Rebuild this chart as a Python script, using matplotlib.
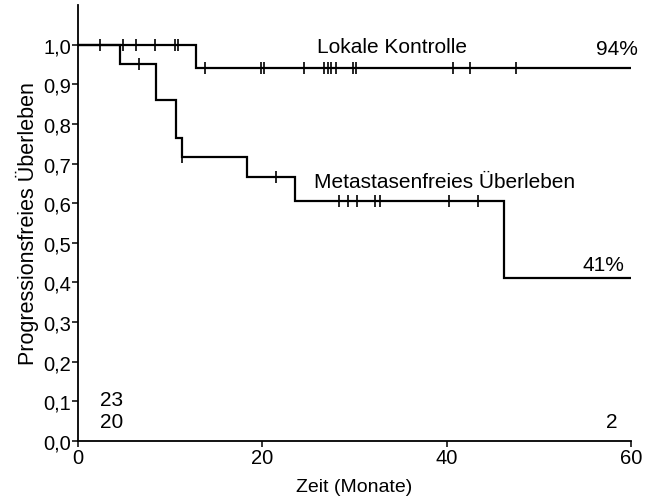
import matplotlib
matplotlib.use("Agg")
import matplotlib.pyplot as plt

# Lokale Kontrolle (step times in months, survival after each step)
lk_times = [0, 12.8, 60]
lk_surv = [1.0, 0.94, 0.94]
lk_censor = [2.4, 4.9, 6.3, 8.4, 10.5, 10.9, 13.8, 19.9, 20.2, 24.5,
             26.7, 27.1, 27.5, 28.0, 29.8, 30.2, 40.7, 42.5, 47.5]

# Metastasenfreies Überleben
mf_times = [0, 4.6, 8.5, 10.6, 11.3, 18.3, 23.5, 46.2, 60]
mf_surv = [1.0, 0.95, 0.86, 0.765, 0.716, 0.665, 0.606, 0.41, 0.41]
mf_censor = [6.6, 11.3, 21.5, 28.3, 29.3, 30.3, 32.2, 32.8, 40.3, 43.4]

x_ticks = [0, 20, 40, 60]
y_ticks = [0.0, 0.1, 0.2, 0.3, 0.4, 0.5, 0.6, 0.7, 0.8, 0.9, 1.0]

plt.rcParams['font.family'] = ['Liberation Sans', 'DejaVu Sans']

fig = plt.figure(figsize=(6.55, 5.02), dpi=100)
ax = fig.add_axes([78/655, 1-442/502, (631-78)/655, (442-6)/502])


def surv_at(times, surv, t):
    val = surv[0]
    for ti, si in zip(times, surv):
        if ti <= t:
            val = si
    return val


for times, surv, cens in [(lk_times, lk_surv, lk_censor), (mf_times, mf_surv, mf_censor)]:
    ax.step(times, surv, where='post', color='black', lw=1.6, solid_joinstyle='miter')
    ax.plot(cens, [surv_at(times, surv, c) for c in cens], linestyle='none',
            marker='|', markersize=8, markeredgewidth=1.2, color='black')

ax.set_xlim(0, 60)
ax.set_ylim(0, 1.1)
ax.set_xticks(x_ticks)
ax.set_xticklabels([str(v) for v in x_ticks])
ax.set_yticks(y_ticks)
ax.set_yticklabels([f"{v:.1f}".replace('.', ',') for v in y_ticks])
for s in ['top', 'right']:
    ax.spines[s].set_visible(False)
for s in ['left', 'bottom']:
    ax.spines[s].set_linewidth(1.3)
ax.tick_params(axis='both', direction='out', length=4, width=1.1, labelsize=14.5, pad=1)

ax.set_xlabel("Zeit (Monate)", fontsize=14, labelpad=8)
ax.set_ylabel("Progressionsfreies Überleben", fontsize=15.5, labelpad=3)

fs = 15
ax.text(25.9, 0.995, "Lokale Kontrolle", fontsize=fs, ha='left', va='center')
ax.text(60.8, 0.99, "94%", fontsize=fs, ha='right', va='center')
ax.text(25.6, 0.655, "Metastasenfreies Überleben", fontsize=fs, ha='left', va='center')
ax.text(59.3, 0.445, "41%", fontsize=fs, ha='right', va='center')
ax.text(2.4, 0.105, "23", fontsize=fs, ha='left', va='center')
ax.text(2.4, 0.048, "20", fontsize=fs, ha='left', va='center')
ax.text(58.5, 0.048, "2", fontsize=fs, ha='right', va='center')

fig.savefig("out.png", dpi=100)
